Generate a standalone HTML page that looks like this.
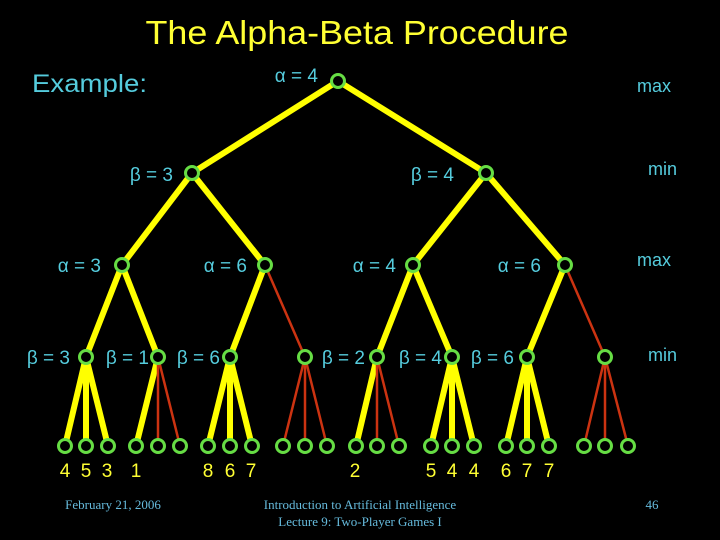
<!DOCTYPE html>
<html><head><meta charset="utf-8"><style>
html,body{margin:0;padding:0;background:#000;}
svg{display:block;}
text{font-family:"Liberation Sans",sans-serif;}
</style></head><body>
<svg width="720" height="540" viewBox="0 0 720 540" xmlns="http://www.w3.org/2000/svg">
<rect width="720" height="540" fill="#000"/>
<text x="357" y="44" font-size="33" fill="#ffff33" text-anchor="middle" textLength="423" lengthAdjust="spacingAndGlyphs">The Alpha-Beta Procedure</text>
<text x="32" y="92" font-size="25" fill="#55ccdd" textLength="115" lengthAdjust="spacingAndGlyphs">Example:</text>
<g font-size="18" fill="#55ccdd">
<text x="637" y="92">max</text>
<text x="648" y="175">min</text>
<text x="637" y="266">max</text>
<text x="648" y="361">min</text>
</g>
<g stroke-linecap="round">
<!-- yellow edges -->
<g stroke="#ffff00" stroke-width="6">
<line x1="338" y1="81" x2="192" y2="173"/>
<line x1="338" y1="81" x2="486" y2="173"/>
<line x1="192" y1="173" x2="122" y2="265"/>
<line x1="192" y1="173" x2="265" y2="265"/>
<line x1="486" y1="173" x2="413" y2="265"/>
<line x1="486" y1="173" x2="565" y2="265"/>
<line x1="122" y1="265" x2="86" y2="357"/>
<line x1="122" y1="265" x2="158" y2="357"/>
<line x1="265" y1="265" x2="230" y2="357"/>
<line x1="413" y1="265" x2="377" y2="357"/>
<line x1="413" y1="265" x2="452" y2="357"/>
<line x1="565" y1="265" x2="527" y2="357"/>
<line x1="86" y1="357" x2="65" y2="446"/><line x1="86" y1="357" x2="86" y2="446"/><line x1="86" y1="357" x2="108" y2="446"/>
<line x1="158" y1="357" x2="136" y2="446"/>
<line x1="230" y1="357" x2="208" y2="446"/><line x1="230" y1="357" x2="230" y2="446"/><line x1="230" y1="357" x2="252" y2="446"/>
<line x1="377" y1="357" x2="356" y2="446"/>
<line x1="452" y1="357" x2="431" y2="446"/><line x1="452" y1="357" x2="452" y2="446"/><line x1="452" y1="357" x2="474" y2="446"/>
<line x1="527" y1="357" x2="506" y2="446"/><line x1="527" y1="357" x2="527" y2="446"/><line x1="527" y1="357" x2="549" y2="446"/>
</g>
<g stroke="#cc3311" stroke-width="2.5">
<line x1="265" y1="265" x2="305" y2="357"/>
<line x1="565" y1="265" x2="605" y2="357"/>
<line x1="158" y1="357" x2="158" y2="446"/><line x1="158" y1="357" x2="180" y2="446"/>
<line x1="305" y1="357" x2="283" y2="446"/><line x1="305" y1="357" x2="305" y2="446"/><line x1="305" y1="357" x2="327" y2="446"/>
<line x1="377" y1="357" x2="377" y2="446"/><line x1="377" y1="357" x2="399" y2="446"/>
<line x1="605" y1="357" x2="584" y2="446"/><line x1="605" y1="357" x2="605" y2="446"/><line x1="605" y1="357" x2="628" y2="446"/>
</g>
</g>
<g fill="#000" stroke="#66dd44" stroke-width="3">
<circle cx="338" cy="81" r="6.5"/>
<circle cx="192" cy="173" r="6.5"/><circle cx="486" cy="173" r="6.5"/>
<circle cx="122" cy="265" r="6.5"/><circle cx="265" cy="265" r="6.5"/><circle cx="413" cy="265" r="6.5"/><circle cx="565" cy="265" r="6.5"/>
<circle cx="86" cy="357" r="6.5"/><circle cx="158" cy="357" r="6.5"/><circle cx="230" cy="357" r="6.5"/><circle cx="305" cy="357" r="6.5"/><circle cx="377" cy="357" r="6.5"/><circle cx="452" cy="357" r="6.5"/><circle cx="527" cy="357" r="6.5"/><circle cx="605" cy="357" r="6.5"/>
<circle cx="65" cy="446" r="6.5"/><circle cx="86" cy="446" r="6.5"/><circle cx="108" cy="446" r="6.5"/>
<circle cx="136" cy="446" r="6.5"/><circle cx="158" cy="446" r="6.5"/><circle cx="180" cy="446" r="6.5"/>
<circle cx="208" cy="446" r="6.5"/><circle cx="230" cy="446" r="6.5"/><circle cx="252" cy="446" r="6.5"/>
<circle cx="283" cy="446" r="6.5"/><circle cx="305" cy="446" r="6.5"/><circle cx="327" cy="446" r="6.5"/>
<circle cx="356" cy="446" r="6.5"/><circle cx="377" cy="446" r="6.5"/><circle cx="399" cy="446" r="6.5"/>
<circle cx="431" cy="446" r="6.5"/><circle cx="452" cy="446" r="6.5"/><circle cx="474" cy="446" r="6.5"/>
<circle cx="506" cy="446" r="6.5"/><circle cx="527" cy="446" r="6.5"/><circle cx="549" cy="446" r="6.5"/>
<circle cx="584" cy="446" r="6.5"/><circle cx="605" cy="446" r="6.5"/><circle cx="628" cy="446" r="6.5"/>
</g>
<g font-size="19" fill="#55ccdd" text-anchor="end">
<text x="318" y="82">α = 4</text>
<text x="173" y="181">β = 3</text>
<text x="454" y="181">β = 4</text>
<text x="101" y="272">α = 3</text>
<text x="247" y="272">α = 6</text>
<text x="396" y="272">α = 4</text>
<text x="541" y="272">α = 6</text>
<text x="70" y="364">β = 3</text>
<text x="149" y="364">β = 1</text>
<text x="220" y="364">β = 6</text>
<text x="365" y="364">β = 2</text>
<text x="442" y="364">β = 4</text>
<text x="514" y="364">β = 6</text>
</g>
<g font-size="19" fill="#ffff33" text-anchor="middle">
<text x="65" y="477">4</text><text x="86" y="477">5</text><text x="107" y="477">3</text><text x="136" y="477">1</text>
<text x="208" y="477">8</text><text x="230" y="477">6</text><text x="251" y="477">7</text>
<text x="355" y="477">2</text>
<text x="431" y="477">5</text><text x="452" y="477">4</text><text x="474" y="477">4</text>
<text x="506" y="477">6</text><text x="527" y="477">7</text><text x="549" y="477">7</text>
</g>
<g font-family="Liberation Serif,serif" font-size="13" fill="#66bbdd" text-anchor="middle">
<text x="113" y="509" style="font-family:'Liberation Serif',serif">February 21, 2006</text>
<text x="360" y="509" style="font-family:'Liberation Serif',serif">Introduction to Artificial Intelligence</text>
<text x="360" y="526" style="font-family:'Liberation Serif',serif">Lecture 9: Two-Player Games I</text>
<text x="652" y="509" style="font-family:'Liberation Serif',serif">46</text>
</g>
</svg>
</body></html>
